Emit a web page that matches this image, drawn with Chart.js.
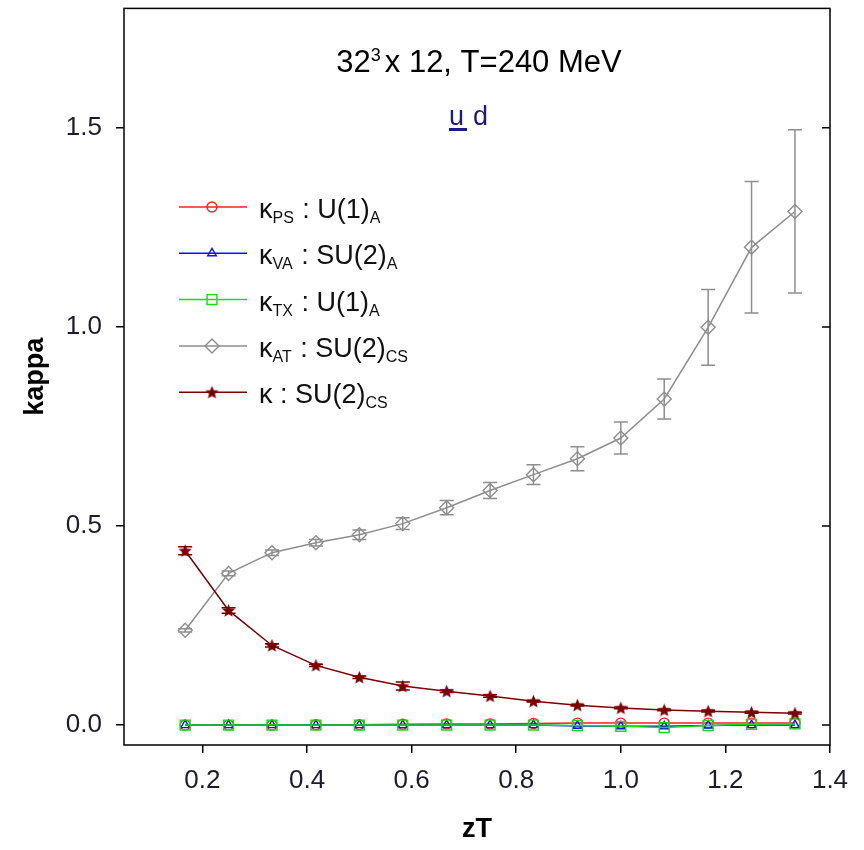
<!DOCTYPE html>
<html>
<head>
<meta charset="utf-8">
<script src="https://cdn.jsdelivr.net/npm/chart.js@4/dist/chart.umd.min.js"></script>
<style>
  html, body { margin: 0; padding: 0; background: #fff; }
  #wrap { width: 864px; height: 850px; }
</style>
</head>
<body>
<div id="wrap"><canvas id="chart" width="864" height="850"></canvas></div>
<script>
// zT positions (k/12)
const zT = [0.167, 0.25, 0.333, 0.417, 0.5, 0.583, 0.667, 0.75, 0.833, 0.917, 1.0, 1.083, 1.167, 1.25, 1.333];

const kappaPS = [0.0, 0.0, 0.0, 0.001, 0.001, 0.002, 0.003, 0.003, 0.004, 0.005, 0.005, 0.005, 0.005, 0.005, 0.005];
const kappaVA = [0.0, 0.0, 0.0, 0.0, 0.0, 0.0, 0.0, 0.0, 0.0, -0.002, -0.003, -0.003, -0.001, 0.0, 0.0];
const kappaTX = [0.0, 0.0, 0.0, 0.0, 0.0, 0.0, 0.0, 0.0, 0.0, -0.001, -0.003, -0.006, -0.001, 0.002, 0.003];
const kappaAT = [0.238, 0.381, 0.433, 0.458, 0.478, 0.506, 0.546, 0.589, 0.629, 0.669, 0.721, 0.819, 0.999, 1.2, 1.29];
const kappaATerr = [0.004, 0.006, 0.007, 0.008, 0.012, 0.015, 0.018, 0.02, 0.025, 0.03, 0.04, 0.05, 0.095, 0.165, 0.205];
const kappaCS = [0.438, 0.288, 0.2, 0.15, 0.12, 0.098, 0.085, 0.073, 0.06, 0.05, 0.043, 0.038, 0.035, 0.032, 0.03];
const kappaCSerr = [0.01, 0.007, 0.004, 0.003, 0.003, 0.01, 0.003, 0.003, 0.002, 0.002, 0.002, 0.002, 0.002, 0.002, 0.002];

const xTicks = [0.2, 0.4, 0.6, 0.8, 1.0, 1.2, 1.4];
const yTicks = [0.0, 0.5, 1.0, 1.5];

const legendRows = [
    [['κ', 0], ['PS', 1], [' : U(1)', 0], ['A', 1]],
    [['κ', 0], ['VA', 1], [' : SU(2)', 0], ['A', 1]],
    [['κ', 0], ['TX', 1], [' : U(1)', 0], ['A', 1]],
    [['κ', 0], ['AT', 1], [' : SU(2)', 0], ['CS', 1]],
    [['κ : SU(2)', 0], ['CS', 1]]
];

const FONT = '"Liberation Sans", Arial, sans-serif';

function starImage(size, color) {
    const c = document.createElement('canvas');
    c.width = size; c.height = size;
    const g = c.getContext('2d');
    const cx = size / 2, cy = size / 2 + 0.5, R = size / 2 - 0.5, r = R * 0.45;
    g.beginPath();
    for (let i = 0; i < 10; i++) {
        const a = -Math.PI / 2 + i * Math.PI / 5;
        const rad = i % 2 === 0 ? R : r;
        g.lineTo(cx + rad * Math.cos(a), cy + rad * Math.sin(a));
    }
    g.closePath();
    g.fillStyle = color;
    g.fill();
    return c;
}
const star = starImage(15, '#7a0000');

function pts(ys) {
    return zT.map((x, i) => ({ x: x, y: ys[i] }));
}

function series(label, ys, color, style, radius, order) {
    return {
        label: label,
        data: pts(ys),
        order: order,
        borderColor: color,
        backgroundColor: color,
        borderWidth: 1.5,
        pointStyle: style,
        pointRadius: radius,
        pointBorderColor: color,
        pointBackgroundColor: 'rgba(255,255,255,0)',
        pointBorderWidth: 1.4,
        showLine: true,
        tension: 0
    };
}

const datasets = [
    series('PS', kappaPS, '#ff2020', 'circle', 5, 4),
    series('VA', kappaVA, '#1010ff', 'triangle', 5, 3),
    series('TX', kappaTX, '#10e010', 'rect', 7, 2),
    series('AT', kappaAT, '#8e8e8e', 'rectRot', 7, 1),
    series('CS', kappaCS, '#7a0000', star, 7, 0)
];
datasets[3].errors = kappaATerr;
datasets[4].errors = kappaCSerr;

const errorBars = {
    id: 'errorBars',
    beforeDatasetsDraw(chart) {
        const ctx = chart.ctx;
        const xs = chart.scales.x, ys = chart.scales.y;
        chart.data.datasets.forEach(ds => {
            if (!ds.errors) return;
            ctx.save();
            ctx.strokeStyle = ds.borderColor;
            ctx.lineWidth = 1.5;
            ds.data.forEach((p, i) => {
                const px = xs.getPixelForValue(p.x);
                const top = ys.getPixelForValue(p.y + ds.errors[i]);
                const bot = ys.getPixelForValue(p.y - ds.errors[i]);
                ctx.beginPath();
                ctx.moveTo(px, top); ctx.lineTo(px, bot);
                ctx.moveTo(px - 7, top); ctx.lineTo(px + 7, top);
                ctx.moveTo(px - 7, bot); ctx.lineTo(px + 7, bot);
                ctx.stroke();
            });
            ctx.restore();
        });
    }
};

function drawSegments(ctx, segs, x, y, size, subSize) {
    segs.forEach(([t, sub]) => {
        ctx.font = (sub ? subSize : size) + 'px ' + FONT;
        ctx.fillText(t, x, sub ? y + 5 : y);
        x += ctx.measureText(t).width + (sub ? 1 : 0);
    });
}

const decorations = {
    id: 'decorations',
    afterDraw(chart) {
        const ctx = chart.ctx;
        const a = chart.chartArea;
        const ys = chart.scales.y;
        ctx.save();
        // frame
        ctx.strokeStyle = '#000';
        ctx.lineWidth = 1.5;
        ctx.strokeRect(a.left, a.top, a.right - a.left, a.bottom - a.top);
        // right inward ticks
        ctx.beginPath();
        yTicks.forEach(v => {
            const py = ys.getPixelForValue(v);
            ctx.moveTo(a.right, py); ctx.lineTo(a.right - 8, py);
        });
        ctx.stroke();

        // title
        ctx.fillStyle = '#000';
        ctx.textBaseline = 'alphabetic';
        ctx.textAlign = 'left';
        const cx = 479;
        ctx.font = '31px ' + FONT;
        const p1 = '32', p2 = 'x 12, T=240 MeV';
        const w1 = ctx.measureText(p1).width;
        ctx.font = '18px ' + FONT;
        const wSup = ctx.measureText('3').width;
        ctx.font = '31px ' + FONT;
        const w2 = ctx.measureText(p2).width;
        let tx = cx - (w1 + wSup + 4 + w2) / 2;
        ctx.fillText(p1, tx, 72);
        ctx.font = '18px ' + FONT;
        ctx.fillText('3', tx + w1, 61);
        ctx.font = '31px ' + FONT;
        ctx.fillText(p2, tx + w1 + wSup + 4, 72);

        // flavour label
        ctx.fillStyle = '#1a1a8a';
        ctx.font = '27px ' + FONT;
        ctx.fillText('u', 449, 125);
        ctx.fillText('d', 473, 125);
        ctx.fillRect(449, 128, 18, 3);

        // legend
        datasets.forEach((ds, i) => {
            const ly = 207 + i * 46.3;
            ctx.strokeStyle = ds.borderColor;
            ctx.fillStyle = 'rgba(255,255,255,0)';
            ctx.lineWidth = 1.5;
            ctx.beginPath();
            ctx.moveTo(179, ly); ctx.lineTo(247, ly);
            ctx.stroke();
            ctx.lineWidth = 1.4;
            Chart.helpers.drawPoint(ctx, {
                pointStyle: ds.pointStyle,
                radius: ds.pointRadius,
                borderWidth: 1.4,
                rotation: 0
            }, 212, ly);
            ctx.fillStyle = '#111';
            ctx.textBaseline = 'alphabetic';
            drawSegments(ctx, legendRows[i], 259, ly + 11, 27, 16);
        });

        // axis titles
        ctx.fillStyle = '#000';
        ctx.font = 'bold 27px ' + FONT;
        ctx.textAlign = 'center';
        ctx.textBaseline = 'middle';
        ctx.fillText('zT', (a.left + a.right) / 2, 830);
        ctx.translate(36, (a.top + a.bottom) / 2);
        ctx.rotate(-Math.PI / 2);
        ctx.fillText('kappa', 0, 0);
        ctx.restore();
    }
};

new Chart(document.getElementById('chart'), {
    type: 'scatter',
    data: { datasets: datasets },
    plugins: [errorBars, decorations],
    options: {
        responsive: false,
        animation: false,
        devicePixelRatio: 1,
        layout: { padding: { left: 0, right: 34, top: 8, bottom: 0 } },
        plugins: {
            legend: { display: false },
            tooltip: { enabled: false }
        },
        scales: {
            x: {
                type: 'linear',
                min: 0.05,
                max: 1.4,
                afterBuildTicks: s => { s.ticks = xTicks.map(v => ({ value: v })); },
                afterFit: s => { s.height = 105; s.paddingLeft = 0; s.paddingRight = 0; },
                border: { display: false },
                grid: { drawOnChartArea: false, drawTicks: true, tickLength: 8, color: '#000', lineWidth: 1.5 },
                ticks: {
                    color: '#1c1c2c',
                    font: { family: FONT, size: 26 },
                    padding: 12,
                    maxRotation: 0,
                    callback: v => v.toFixed(1)
                }
            },
            y: {
                type: 'linear',
                min: -0.05,
                max: 1.8,
                afterBuildTicks: s => { s.ticks = yTicks.map(v => ({ value: v })); },
                afterFit: s => { s.width = 124; s.paddingTop = 0; s.paddingBottom = 0; },
                border: { display: false },
                grid: { drawOnChartArea: false, drawTicks: true, tickLength: 8, color: '#000', lineWidth: 1.5 },
                ticks: {
                    color: '#1c1c2c',
                    font: { family: FONT, size: 26 },
                    padding: 14,
                    callback: v => v.toFixed(1)
                }
            }
        }
    }
});
</script>
</body>
</html>
